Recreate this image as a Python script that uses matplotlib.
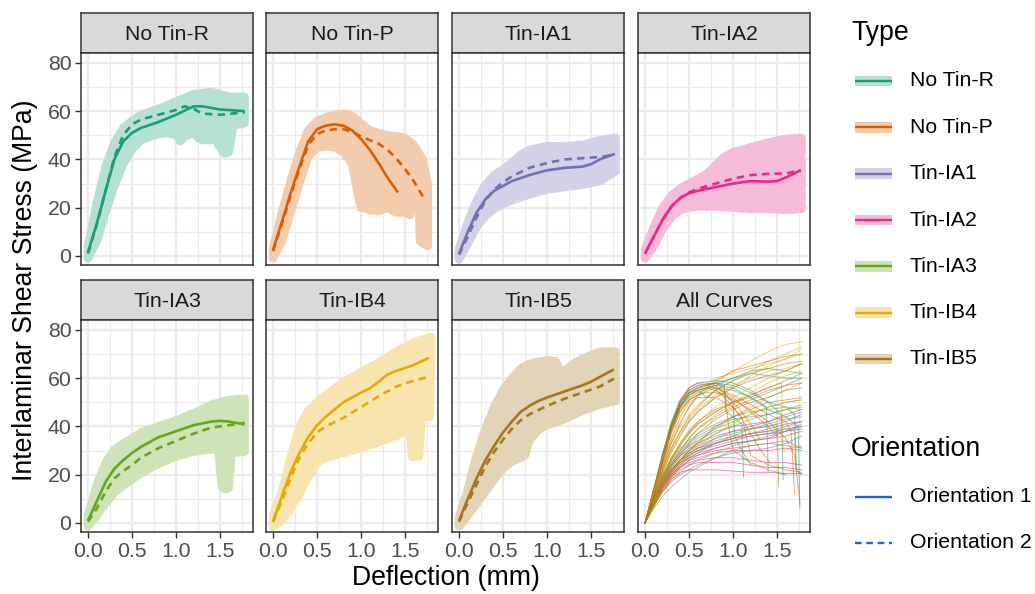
import numpy as np
import matplotlib.pyplot as plt
from matplotlib.patches import Rectangle
from matplotlib.colors import to_rgb

plt.rcParams['font.family'] = ['Liberation Sans', 'DejaVu Sans']

types = ['No Tin-R', 'No Tin-P', 'Tin-IA1', 'Tin-IA2', 'Tin-IA3', 'Tin-IB4', 'Tin-IB5']
colours = ['#1B9E77', '#D95F02', '#7570B3', '#E7298A', '#66A61E', '#E6AB02', '#A6761D']
orient_labels = ['Orientation 1', 'Orientation 2']

# ---- mean curves (orientation 1 / 2) and scatter bands, per type ----
noR_o1_x = [0, 0.1, 0.2, 0.3, 0.4, 0.5, 0.6, 0.8, 1.0, 1.2, 1.3, 1.5, 1.78]
noR_o1_y = [1.5, 13.5, 27, 40, 47.5, 51, 53, 55.5, 58.5, 62, 62, 60.7, 60]
noR_o2_x = [0, 0.1, 0.2, 0.3, 0.4, 0.5, 0.6, 0.8, 1.0, 1.1, 1.2, 1.3, 1.5, 1.78]
noR_o2_y = [1, 13, 27, 41, 50, 54.5, 56.5, 58.5, 60.5, 62, 61, 59, 58.5, 59.5]
noR_hi_x = [0, 0.1, 0.2, 0.3, 0.4, 0.5, 0.6, 0.8, 1.0, 1.2, 1.4, 1.6, 1.78]
noR_hi_y = [4, 22, 37, 47, 53, 56, 58.5, 61, 64, 67, 68, 66, 66]
noR_lo_x = [0, 0.1, 0.2, 0.3, 0.4, 0.5, 0.6, 0.8, 0.9, 1.0, 1.05, 1.1, 1.2, 1.25,
            1.3, 1.45, 1.5, 1.55, 1.6, 1.65, 1.78]
noR_lo_y = [-1, 6, 18, 29, 38, 44, 48, 50.5, 51, 50, 47.5, 49.5, 51, 49,
            48, 48, 45, 42.5, 43, 54, 55]

noP_o1_x = [0, 0.1, 0.2, 0.3, 0.4, 0.5, 0.6, 0.7, 0.8, 0.9, 1.0, 1.1, 1.2, 1.3, 1.42]
noP_o1_y = [2.5, 14, 26, 37, 47.5, 52.5, 54, 54.5, 54, 52, 48.5, 44, 38.5, 32.5, 26.3]
noP_o2_x = [0, 0.1, 0.2, 0.3, 0.4, 0.5, 0.6, 0.7, 0.8, 0.9, 1.0, 1.1, 1.2, 1.3,
            1.4, 1.5, 1.6, 1.73]
noP_o2_y = [2, 13, 25, 36, 46, 50.5, 52, 52.5, 52.5, 51.5, 49.5, 48, 46.5, 44,
            40.5, 36, 31, 23]
noP_hi_x = [0, 0.1, 0.2, 0.3, 0.4, 0.5, 0.6, 0.7, 0.8, 0.9, 1.0, 1.1, 1.2, 1.3,
            1.4, 1.5, 1.6, 1.65, 1.7, 1.76]
noP_hi_y = [3, 18, 31, 43, 52, 56, 57.5, 58.5, 59, 58, 55, 52, 51, 50,
            49.5, 49, 46, 43, 40, 30]
noP_lo_x = [0, 0.1, 0.2, 0.3, 0.4, 0.5, 0.6, 0.7, 0.8, 0.9, 0.95, 1.0, 1.1, 1.2,
            1.3, 1.4, 1.5, 1.56, 1.6, 1.64, 1.67, 1.76]
noP_lo_y = [-1, 6, 18, 30, 41, 45, 45.5, 45, 43, 38, 28, 20, 19, 18.5,
            20, 18, 18, 17, 40, 40, 6, 4]

ia1_o1_x = [0, 0.1, 0.2, 0.3, 0.4, 0.5, 0.6, 0.8, 1.0, 1.2, 1.4, 1.5, 1.6, 1.77]
ia1_o1_y = [1, 10, 18, 23.5, 27, 29, 31, 33.5, 35.5, 36.5, 37, 38, 40, 42.3]
ia1_o2_x = [0, 0.1, 0.2, 0.3, 0.4, 0.5, 0.6, 0.8, 1.0, 1.2, 1.4, 1.6, 1.77]
ia1_o2_y = [0.5, 8, 16, 23, 27.5, 30.5, 33, 36.5, 38.5, 40, 40.5, 41, 42]
ia1_hi_x = [0, 0.1, 0.2, 0.3, 0.4, 0.5, 0.6, 0.7, 0.8, 1.0, 1.2, 1.4, 1.6, 1.78]
ia1_hi_y = [3, 14, 23, 29.5, 33.5, 36, 38.5, 42, 44, 45.5, 45.5, 46, 48, 49]
ia1_lo_x = [0, 0.1, 0.2, 0.3, 0.4, 0.5, 0.6, 0.8, 1.0, 1.2, 1.4, 1.6, 1.78]
ia1_lo_y = [-1.5, 5, 12, 16.5, 19.5, 21.5, 23, 25.5, 27.5, 28.5, 29.5, 31, 35]

ia2_o1_x = [0, 0.1, 0.2, 0.3, 0.4, 0.5, 0.6, 0.8, 1.0, 1.2, 1.4, 1.5, 1.6, 1.77]
ia2_o1_y = [1, 8, 15, 20.5, 24, 26, 27, 28.5, 30, 31, 30.8, 31, 32.5, 35.5]
ia2_o2_x = [0, 0.1, 0.2, 0.3, 0.4, 0.5, 0.6, 0.8, 1.0, 1.2, 1.4, 1.6, 1.77]
ia2_o2_y = [1, 8, 15, 20.5, 24, 26.3, 27.8, 30, 32, 33.5, 34, 34.2, 35.5]
ia2_hi_x = [0, 0.1, 0.2, 0.3, 0.4, 0.5, 0.6, 0.7, 0.8, 0.9, 1.0, 1.2, 1.4, 1.6, 1.78]
ia2_hi_y = [3, 12, 20, 25, 28, 30, 32, 34, 37.5, 41, 43, 45, 47, 48.5, 49]
ia2_lo_x = [0, 0.1, 0.2, 0.3, 0.4, 0.5, 0.6, 0.8, 1.0, 1.2, 1.4, 1.6, 1.78]
ia2_lo_y = [-1, 4, 11, 16, 19, 20, 20.5, 20.5, 20, 19.5, 19.5, 19, 19.5]

ia3_o1_x = [0, 0.1, 0.2, 0.3, 0.4, 0.5, 0.6, 0.7, 0.8, 1.0, 1.2, 1.4, 1.5, 1.6, 1.78]
ia3_o1_y = [1, 9, 17, 22.5, 26, 29, 31.5, 33.5, 35.5, 38, 40.5, 42, 42.3, 42, 40.8]
ia3_o2_x = [0, 0.1, 0.2, 0.3, 0.4, 0.5, 0.6, 0.8, 1.0, 1.2, 1.4, 1.6, 1.78]
ia3_o2_y = [0.5, 6, 13, 18.5, 21.5, 24, 27, 31, 34, 37, 39.5, 40.5, 41.5]
ia3_hi_x = [0, 0.1, 0.2, 0.3, 0.4, 0.5, 0.6, 0.8, 1.0, 1.2, 1.4, 1.6, 1.78]
ia3_hi_y = [3, 16, 25, 30.5, 33, 35, 37.5, 40, 42.5, 45.5, 49, 51, 51.5]
ia3_lo_x = [0, 0.1, 0.2, 0.3, 0.4, 0.5, 0.6, 0.8, 1.0, 1.2, 1.4, 1.48, 1.52,
            1.56, 1.6, 1.63, 1.78]
ia3_lo_y = [-1.5, 3, 8, 12.5, 15.5, 18, 20.5, 24.5, 27.5, 29.5, 30.5, 30.5, 15,
            14, 14.5, 29, 29.5]

ib4_o1_x = [0, 0.1, 0.2, 0.3, 0.4, 0.5, 0.6, 0.7, 0.8, 0.9, 1.0, 1.1, 1.2, 1.3,
            1.4, 1.5, 1.6, 1.77]
ib4_o1_y = [0.5, 11, 21, 29, 35.5, 40.5, 44, 47, 50, 52, 54, 55.8, 58.5, 61.5,
            63, 64.2, 65.5, 68.4]
ib4_o2_x = [0, 0.1, 0.2, 0.3, 0.4, 0.5, 0.6, 0.7, 0.8, 1.0, 1.2, 1.4, 1.6, 1.77]
ib4_o2_y = [0.5, 9, 18.5, 27, 33, 37.5, 40, 41.8, 43.5, 48, 52.5, 56.5, 59, 60.5]
ib4_hi_x = [0, 0.1, 0.2, 0.3, 0.4, 0.5, 0.6, 0.8, 1.0, 1.2, 1.4, 1.6, 1.8]
ib4_hi_y = [3, 13, 27, 40, 46.5, 50, 53, 58.5, 62.5, 66.5, 71, 75, 77]
ib4_lo_x = [0, 0.1, 0.2, 0.3, 0.4, 0.5, 0.6, 0.8, 1.0, 1.2, 1.4, 1.5, 1.55,
            1.58, 1.66, 1.69, 1.78]
ib4_lo_y = [-1.5, 1, 6, 12, 19, 25, 27, 29, 31, 33.5, 36, 38, 40,
            27.5, 27.5, 44, 44]

ib5_o1_x = [0, 0.1, 0.2, 0.3, 0.4, 0.5, 0.6, 0.7, 0.8, 0.9, 1.0, 1.2, 1.4, 1.5,
            1.6, 1.76]
ib5_o1_y = [1, 10, 18.5, 26, 32, 37.5, 42, 46, 48.5, 50.5, 52, 54.5, 57, 58.5,
            60.5, 63.6]
ib5_o2_x = [0, 0.1, 0.2, 0.3, 0.4, 0.5, 0.6, 0.7, 0.8, 1.0, 1.2, 1.4, 1.6, 1.76]
ib5_o2_y = [0.5, 8.5, 16, 23.5, 29.5, 34.5, 39, 42.5, 45, 48.5, 51.5, 54, 56.5, 59.8]
ib5_hi_x = [0, 0.1, 0.2, 0.3, 0.4, 0.5, 0.6, 0.7, 0.8, 1.0, 1.1, 1.15, 1.2, 1.3,
            1.4, 1.5, 1.6, 1.78]
ib5_hi_y = [2.5, 14, 28, 39, 48, 55, 60, 64, 66, 67.5, 67, 63, 63, 66,
            68, 69.5, 71, 71]
ib5_lo_x = [0, 0.1, 0.2, 0.3, 0.4, 0.5, 0.6, 0.7, 0.75, 0.8, 0.9, 1.0, 1.2,
            1.4, 1.6, 1.78]
ib5_lo_y = [-1.5, 3, 8, 13, 18, 22.5, 25.5, 27, 28, 34, 38.5, 40.5, 43,
            46.5, 49, 50.5]

# ---- individual specimen curves for the "All Curves" panel ----
sx = [0, 0.1, 0.2, 0.3, 0.4, 0.5, 0.6, 0.8, 1.0, 1.2, 1.4, 1.6, 1.78]

spec_noR = [
    (sx, [0, 14, 28, 41, 50, 54, 56, 58, 60, 62, 61, 60, 60]),
    (sx, [0, 13, 27, 40, 48, 52, 54, 57, 60, 63, 64, 63, 62]),
    ([0, 0.1, 0.2, 0.3, 0.4, 0.5, 0.6, 0.8, 0.9, 0.92, 1.0, 1.1, 1.12],
     [0, 14, 29, 42, 51, 55, 57, 58, 57, 46, 44, 41, 19]),
    ([0, 0.1, 0.2, 0.3, 0.4, 0.5, 0.6, 0.8, 1.0, 1.2, 1.3, 1.38, 1.4],
     [0, 12, 25, 38, 47, 51, 53, 56, 55, 52, 50, 48, 21]),
    ([0, 0.1, 0.2, 0.3, 0.4, 0.5, 0.6, 0.8, 1.0, 1.2, 1.4, 1.6, 1.74, 1.76],
     [0, 13, 26, 39, 48, 53, 55, 57, 56, 52, 47, 44, 40, 6]),
    ([0, 0.1, 0.2, 0.3, 0.4, 0.5, 0.6, 0.8, 1.0, 1.2, 1.4, 1.55, 1.57],
     [0, 14, 28, 41, 50, 56, 58, 59, 58, 55, 50, 45, 18]),
    ([0, 0.1, 0.2, 0.3, 0.4, 0.5, 0.6, 0.7, 0.8, 0.9, 1.0, 1.02, 1.1, 1.2],
     [0, 13, 27, 40, 49, 54, 55, 52, 55, 53, 50, 36, 30, 24]),
    ([0, 0.1, 0.2, 0.3, 0.4, 0.5, 0.6, 0.8, 1.0, 1.2, 1.4, 1.6, 1.7, 1.72, 1.78],
     [0, 13, 26, 40, 49, 54, 56, 58, 57, 54, 50, 48, 45, 22, 20]),
]
spec_noP = [
    ([0, 0.1, 0.2, 0.3, 0.4, 0.5, 0.6, 0.7, 0.8, 0.9, 1.0, 1.1, 1.2, 1.3, 1.42],
     [0, 13, 26, 38, 48, 53, 55, 56, 55, 52, 48, 43, 37, 31, 25]),
    ([0, 0.1, 0.2, 0.3, 0.4, 0.5, 0.6, 0.7, 0.8, 0.9, 1.0, 1.2, 1.4, 1.6, 1.7, 1.76],
     [0, 12, 25, 37, 46, 51, 53, 54, 54, 53, 51, 47, 42, 35, 28, 8]),
    ([0, 0.1, 0.2, 0.3, 0.4, 0.5, 0.6, 0.8, 0.9, 0.95, 1.0, 1.2, 1.4, 1.6],
     [0, 14, 28, 40, 50, 55, 57, 58, 56, 40, 30, 25, 22, 20]),
    ([0, 0.1, 0.2, 0.3, 0.4, 0.5, 0.6, 0.8, 1.0, 1.1, 1.2, 1.4, 1.6, 1.78],
     [0, 12, 24, 35, 44, 50, 52, 52, 48, 44, 28, 24, 22, 21]),
    ([0, 0.1, 0.2, 0.3, 0.4, 0.5, 0.6, 0.7, 0.8, 1.0, 1.2, 1.4, 1.5],
     [0, 13, 27, 39, 49, 54, 56, 57, 56, 52, 46, 40, 36]),
    ([0, 0.1, 0.2, 0.3, 0.4, 0.5, 0.6, 0.7, 0.8, 0.9, 1.0, 1.1, 1.2, 1.3],
     [0, 14, 28, 41, 51, 56, 58, 58, 57, 54, 50, 46, 41, 35]),
    ([0, 0.1, 0.2, 0.3, 0.4, 0.5, 0.6, 0.7, 0.8, 1.0, 1.2, 1.4, 1.6, 1.66, 1.7],
     [0, 13, 26, 38, 48, 53, 55, 56, 56, 53, 49, 45, 42, 38, 12]),
]
spec_ia1 = [
    (sx, [0, 10, 18, 24, 28, 31, 33, 36, 38, 39, 40, 42, 45]),
    (sx, [0, 8, 15, 20, 23, 26, 28, 31, 33, 34, 35, 38, 41]),
    (sx, [0, 11, 20, 26, 30, 33, 36, 40, 43, 44, 45, 47, 48]),
    (sx, [0, 7, 13, 17, 20, 22, 24, 27, 29, 30, 31, 33, 36]),
    (sx, [0, 9, 17, 22, 26, 29, 31, 34, 36, 37, 38, 40, 42]),
    (sx, [0, 9, 16, 21, 25, 28, 30, 33, 35, 36, 37, 39, 40]),
    (sx, [0, 10, 19, 25, 29, 32, 34, 38, 40, 41, 42, 44, 46]),
]
spec_ia2 = [
    (sx, [0, 7, 13, 18, 21, 22, 22, 22, 21.5, 21, 21, 20.5, 20.5]),
    (sx, [0, 8, 15, 20, 23, 25, 26, 27, 27, 26, 25, 25, 24]),
    (sx, [0, 9, 16, 21, 25, 27, 29, 31, 33, 34, 35, 36, 38]),
    (sx, [0, 10, 18, 24, 28, 30, 32, 35, 38, 40, 42, 45, 47]),
    (sx, [0, 8, 14, 19, 23, 26, 27, 29, 30, 30, 30, 31, 30]),
    (sx, [0, 9, 17, 22, 26, 28, 30, 32, 34, 36, 37, 38, 39]),
    (sx, [0, 8, 15, 20, 24, 27, 28, 30, 31, 32, 33, 34, 31]),
    (sx, [0, 7, 14, 19, 22, 24, 25, 25, 25, 24, 23, 23, 22]),
    (sx, [0, 9, 16, 22, 26, 29, 31, 33, 35, 37, 39, 41, 42]),
]
spec_ia3 = [
    (sx, [0, 10, 19, 25, 29, 32, 35, 39, 42, 45, 48, 50, 51]),
    (sx, [0, 8, 15, 20, 24, 27, 29, 33, 36, 39, 41, 43, 44]),
    (sx, [0, 7, 13, 18, 21, 24, 26, 29, 32, 34, 36, 38, 40]),
    ([0, 0.1, 0.2, 0.3, 0.4, 0.5, 0.6, 0.8, 1.0, 1.2, 1.4, 1.5, 1.52],
     [0, 9, 17, 22, 26, 29, 31, 35, 37, 39, 40, 41, 15]),
    (sx, [0, 6, 11, 15, 18, 21, 23, 27, 30, 32, 33, 32, 31]),
    (sx, [0, 11, 20, 27, 31, 34, 37, 41, 44, 46, 47, 48, 47]),
    (sx, [0, 9, 17, 23, 27, 30, 33, 37, 40, 43, 45, 47, 49]),
    ([0, 0.1, 0.2, 0.3, 0.4, 0.5, 0.6, 0.8, 1.0, 1.2, 1.4, 1.6, 1.7, 1.72],
     [0, 8, 15, 21, 25, 28, 30, 33, 35, 37, 38, 39, 38, 22]),
]
spec_ib4 = [
    (sx, [0, 12, 24, 34, 42, 48, 52, 58, 63, 67, 71, 74, 75]),
    (sx, [0, 10, 21, 30, 37, 42, 46, 52, 56, 61, 65, 68, 70]),
    (sx, [0, 9, 18, 26, 32, 37, 41, 46, 50, 54, 58, 61, 63]),
    (sx, [0, 11, 22, 31, 38, 43, 47, 53, 57, 60, 63, 64, 66]),
    (sx, [0, 8, 15, 21, 26, 30, 34, 39, 44, 48, 52, 55, 58]),
    ([0, 0.1, 0.2, 0.3, 0.4, 0.5, 0.6, 0.8, 1.0, 1.2, 1.4, 1.55, 1.57, 1.78],
     [0, 9, 17, 24, 30, 35, 39, 45, 49, 53, 56, 58, 30, 32]),
    (sx, [0, 13, 27, 38, 46, 51, 55, 60, 62, 64, 66, 68, 72]),
    (sx, [0, 12, 23, 33, 40, 45, 49, 55, 59, 63, 67, 70, 73]),
    (sx, [0, 10, 19, 27, 33, 38, 42, 48, 52, 56, 60, 63, 66]),
    (sx, [0, 7, 13, 19, 24, 28, 32, 37, 41, 45, 48, 50, 51]),
]
spec_ib5 = [
    (sx, [0, 12, 23, 33, 41, 48, 53, 59, 63, 65, 67, 69, 70]),
    (sx, [0, 10, 19, 27, 33, 38, 42, 47, 50, 53, 56, 59, 62]),
    (sx, [0, 9, 17, 24, 30, 35, 39, 44, 48, 51, 54, 57, 60]),
    (sx, [0, 8, 15, 21, 26, 30, 33, 40, 44, 47, 50, 51, 52]),
    (sx, [0, 11, 21, 29, 36, 42, 46, 52, 56, 59, 61, 63, 66]),
    (sx, [0, 10, 18, 26, 32, 37, 41, 46, 50, 52, 55, 57, 58]),
    (sx, [0, 11, 22, 31, 38, 44, 48, 55, 59, 62, 64, 66, 67]),
    (sx, [0, 9, 16, 23, 28, 33, 37, 43, 47, 50, 52, 55, 56]),
]

means = [
    (noR_o1_x, noR_o1_y, noR_o2_x, noR_o2_y, noR_hi_x, noR_hi_y, noR_lo_x, noR_lo_y),
    (noP_o1_x, noP_o1_y, noP_o2_x, noP_o2_y, noP_hi_x, noP_hi_y, noP_lo_x, noP_lo_y),
    (ia1_o1_x, ia1_o1_y, ia1_o2_x, ia1_o2_y, ia1_hi_x, ia1_hi_y, ia1_lo_x, ia1_lo_y),
    (ia2_o1_x, ia2_o1_y, ia2_o2_x, ia2_o2_y, ia2_hi_x, ia2_hi_y, ia2_lo_x, ia2_lo_y),
    (ia3_o1_x, ia3_o1_y, ia3_o2_x, ia3_o2_y, ia3_hi_x, ia3_hi_y, ia3_lo_x, ia3_lo_y),
    (ib4_o1_x, ib4_o1_y, ib4_o2_x, ib4_o2_y, ib4_hi_x, ib4_hi_y, ib4_lo_x, ib4_lo_y),
    (ib5_o1_x, ib5_o1_y, ib5_o2_x, ib5_o2_y, ib5_hi_x, ib5_hi_y, ib5_lo_x, ib5_lo_y),
]
specimens = [spec_noR, spec_noP, spec_ia1, spec_ia2, spec_ia3, spec_ib4, spec_ib5]


def light(c, a=0.32):
    r, g, b = to_rgb(c)
    return (1 - a + a * r, 1 - a + a * g, 1 - a + a * b)


W, H = 1035, 594
fig = plt.figure(figsize=(W / 100, H / 100), dpi=100)


def px_axes(left, top, w, h):
    return fig.add_axes([left / W, 1 - (top + h) / H, w / W, h / H])


col_left = [81, 266, 452, 638]
pw = 172
rows = [(13, 53, 265), (280, 320, 532)]
border = '#333333'
tick_col = '#4D4D4D'
fs_small = 15.3
fs_title = 19.2
dash = (0, (2.8, 2.0))

titles = types + ['All Curves']
for k, name in enumerate(titles):
    r, c = divmod(k, 4)
    s_top, p_top, p_bot = rows[r]
    # strip
    sa = px_axes(col_left[c], s_top, pw, p_top - s_top)
    sa.set_facecolor('#D9D9D9')
    sa.set_xticks([])
    sa.set_yticks([])
    for sp in sa.spines.values():
        sp.set_color(border)
        sp.set_linewidth(1.1)
    sa.text(0.5, 0.47, name, ha='center', va='center', fontsize=fs_small,
            color='#1A1A1A', transform=sa.transAxes)

    ax = px_axes(col_left[c], p_top, pw, p_bot - p_top)
    ax.set_xlim(-0.0795, 1.875)
    ax.set_ylim(-3.75, 84.1)
    ax.set_xticks([0, 0.5, 1.0, 1.5])
    ax.set_xticks([0.25, 0.75, 1.25, 1.75], minor=True)
    ax.set_yticks([0, 20, 40, 60, 80])
    ax.set_yticks([10, 30, 50, 70], minor=True)
    ax.grid(which='major', color='#EBEBEB', lw=1.7, zorder=0)
    ax.grid(which='minor', color='#EBEBEB', lw=0.85, zorder=0)
    ax.set_axisbelow(True)
    for sp in ax.spines.values():
        sp.set_color(border)
        sp.set_linewidth(1.1)
    ax.tick_params(which='minor', length=0)
    ax.tick_params(which='major', length=4, width=1.0, color=border,
                   labelsize=fs_small, labelcolor=tick_col, pad=3)
    if c != 0:
        ax.tick_params(axis='y', which='major', length=0, labelleft=False)
    else:
        ax.set_yticklabels(['0', '20', '40', '60', '80'])
    if r != 1:
        ax.tick_params(axis='x', which='major', length=0, labelbottom=False)
    else:
        ax.set_xticklabels(['0.0', '0.5', '1.0', '1.5'])

    if k < 7:
        col = colours[k]
        x1, y1, x2, y2, hx, hy, lx, ly = means[k]
        bx = list(hx) + list(lx)[::-1]
        by = list(hy) + list(ly)[::-1]
        ax.fill(bx, by, facecolor=light(col), edgecolor=light(col), lw=6,
                joinstyle='round', zorder=1)
        ax.plot(x1, y1, color=col, lw=1.9, solid_capstyle='butt', zorder=3)
        ax.plot(x2, y2, color=col, lw=1.9, ls=dash, zorder=3)
    else:
        for t, spec in enumerate(specimens):
            for xs, ys in spec:
                ax.plot(xs, ys, color=colours[t], lw=0.7, alpha=0.55, zorder=2)

# axis titles
fig.text(25 / W, 1 - 290 / H, 'Interlaminar Shear Stress (MPa)', rotation=90,
         ha='center', va='center', fontsize=fs_title, color='black')
fig.text(446 / W, 1 - 578 / H, 'Deflection (mm)', ha='center', va='center',
         fontsize=fs_title, color='black')

# legends drawn in figure pixel space
lg = fig.add_axes([0, 0, 1, 1])
lg.set_xlim(0, W)
lg.set_ylim(H, 0)
lg.axis('off')

lg.text(851, 33, 'Type', ha='left', va='center', fontsize=fs_title)
key_y = [81, 127.3, 173.6, 220, 266.2, 312.5, 358.8]
for name, col, y in zip(types, colours, key_y):
    lg.add_patch(Rectangle((855, y - 5.3), 37, 10.6, facecolor=light(col),
                           edgecolor='none'))
    lg.plot([855, 892], [y, y], color=col, lw=1.7, solid_capstyle='butt')
    lg.text(910, y, name, ha='left', va='center', fontsize=fs_small)

blue = '#1F5FE0'
lg.text(851, 449, 'Orientation', ha='left', va='center', fontsize=fs_title)
for label, y, ls in zip(orient_labels, [497, 543], ['-', dash]):
    lg.plot([855, 892], [y, y], color=blue, lw=1.7, ls=ls, solid_capstyle='butt')
    lg.text(910, y, label, ha='left', va='center', fontsize=fs_small)

fig.savefig('out.png', dpi=100)
